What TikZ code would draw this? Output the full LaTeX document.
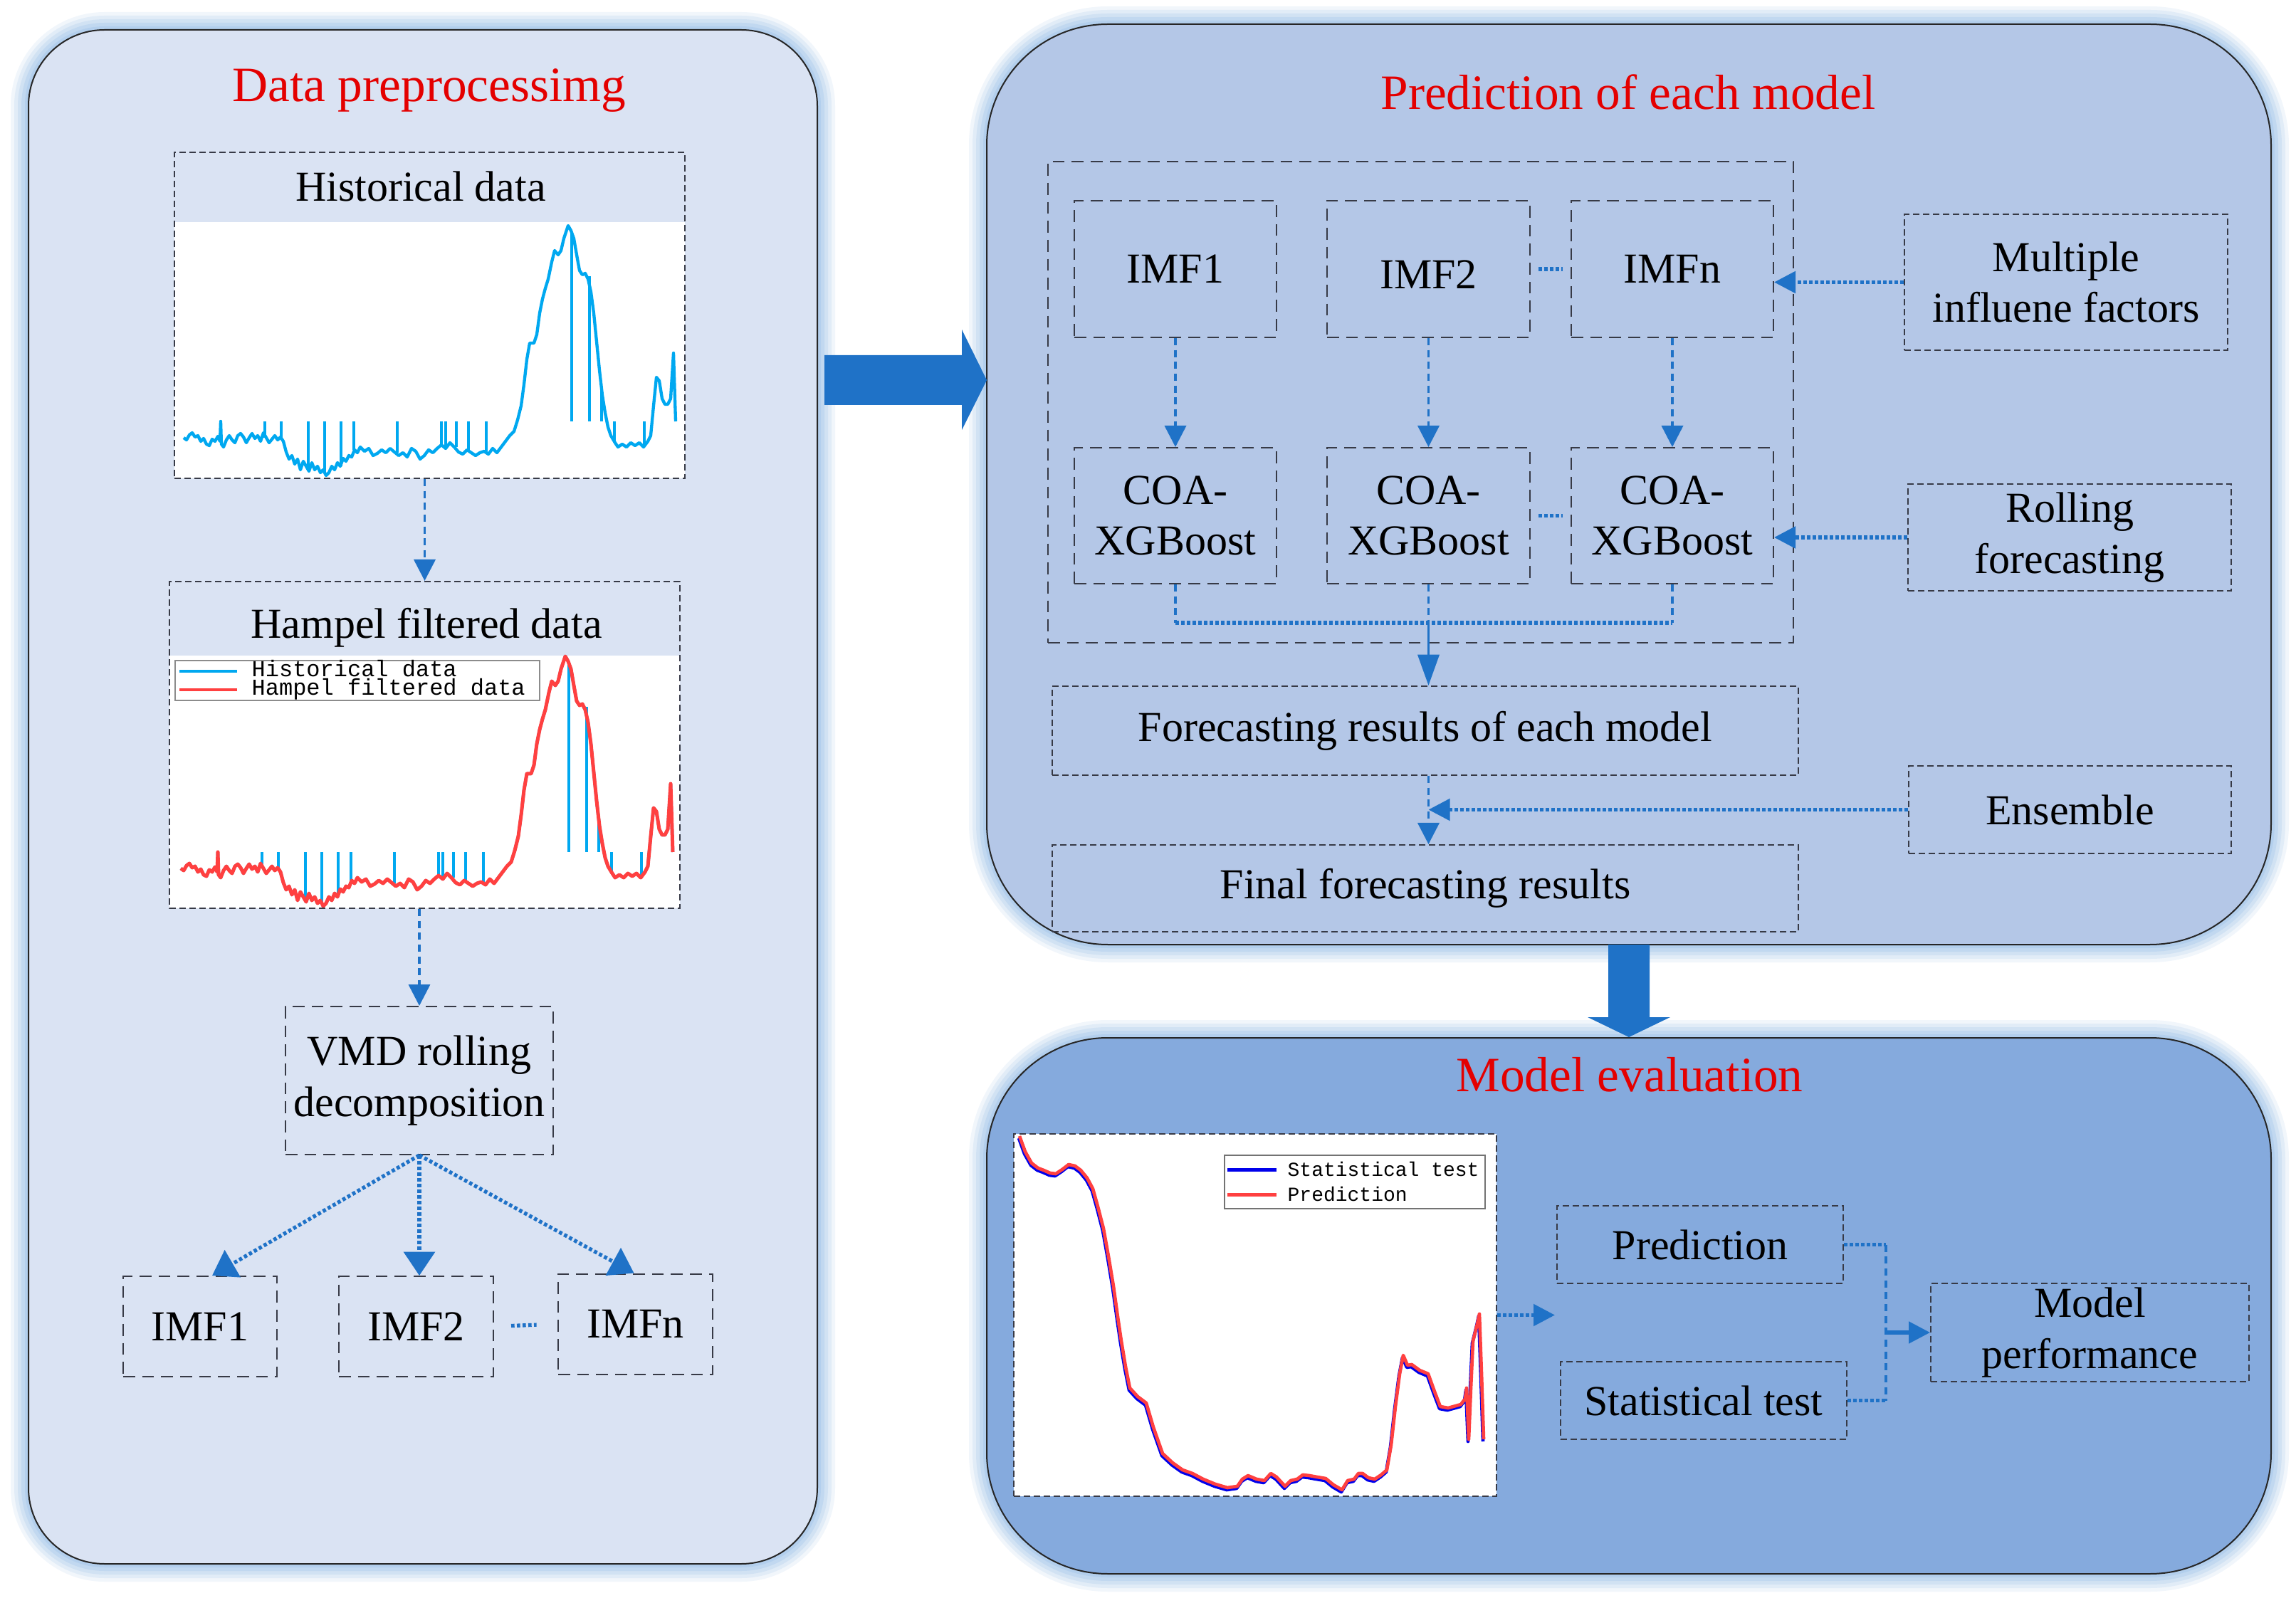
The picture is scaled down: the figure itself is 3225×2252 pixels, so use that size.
\documentclass[tikz,border=0pt]{standalone}
\usepackage{fontspec}
\setmainfont{Liberation Serif}
\newfontfamily\monof{Liberation Mono}
\usetikzlibrary{arrows.meta,calc}
\definecolor{pleft}{HTML}{DAE3F3}
\definecolor{ptop}{HTML}{B4C7E7}
\definecolor{pbot}{RGB}{133,170,221}
\definecolor{glowc}{RGB}{140,182,230}
\definecolor{arrc}{RGB}{31,114,199}
\definecolor{titred}{RGB}{228,0,0}
\definecolor{bordc}{RGB}{55,58,70}
\definecolor{histc}{RGB}{0,168,240}
\definecolor{hampc}{RGB}{255,64,64}
\definecolor{evblue}{RGB}{0,0,235}

\newcommand\glowrect[5]{%
  \foreach \w/\o in {15/0.12,12/0.15,9/0.18,6/0.22,3/0.25}{%
    \draw[glowc, line width=\w pt, opacity=\o, rounded corners=#5] (#1,#2) rectangle (#3,#4);}}

\newcommand\histcurve[1]{%
\draw[#1, line join=round] plot coordinates {
(258,615)(262,618)(266,611)(270,608)(274,614)(278,612)(282,620)(286,616)(290,624)(294,626)(298,617)(302,620)(306,613)(309,620)(310,592)(311,624)(314,628)(318,618)(322,612)(326,618)(330,622)(334,612)(338,609)(342,614)(346,622)(350,615)(354,609)(358,616)(362,612)(366,620)(370,608)(374,615)(378,622)(382,617)(386,612)(390,618)(394,614)(398,620)
(402,635)(406,645)(410,640)(414,652)(418,645)(422,660)(426,648)(430,655)(434,662)(438,650)(442,660)(446,655)(450,664)(454,660)(458,668)(462,664)(466,655)(470,660)(474,650)(478,655)(482,644)(486,648)(490,640)(494,642)(498,632)
(502,636)(506,628)(512,634)(518,630)(524,640)(530,637)(536,632)(542,636)(548,630)(554,635)(560,640)(566,636)(572,642)(578,630)(584,634)(590,645)(596,640)(602,632)(608,636)(614,630)(620,625)(626,630)(632,622)(638,628)(644,635)(650,638)(656,632)(662,636)(668,640)(674,636)(680,634)(686,638)(692,630)(698,636)(704,628)(710,620)
(716,612)(722,606)(727,590)(732,570)(736,540)(740,505)(744,482)(750,482)(754,470)(758,440)(762,420)(766,405)(770,392)(775,368)(779,352)(784,358)(788,352)(792,335)(798,317)(802,324)(806,335)(810,358)(814,380)(818,386)(822,384)(826,392)(830,410)(834,440)(838,480)(842,520)(846,555)(850,580)(854,600)(858,612)(864,622)(868,628)(874,624)(880,628)(886,622)(892,626)(898,622)(904,628)(910,620)(914,612)(918,570)(922,530)(926,535)(930,560)(934,568)(938,568)(942,560)(946,496)(949,592)};}

\newcommand\histspikes[1]{%
  \foreach \x/\y in {372/615,395/614,433/660,456/664,479/655,497/632,558/636,620/625,626/630,641/628,658/634,683/636,863/622,905/628}{%
    \draw[#1] (\x,\y) -- (\x,592);}
  \foreach \x/\y in {803/326,828/388,845/550}{%
    \draw[#1] (\x,\y) -- (\x,592);}}

\newcommand\evcurve[1]{%
\draw[#1, line join=round] plot coordinates {
(1432,1596)(1440,1618)(1449,1634)(1458,1641)(1466,1644)(1475,1648)(1483,1649)(1492,1643)(1501,1636)(1510,1638)(1518,1644)(1527,1655)(1535,1670)(1542,1695)(1550,1726)(1557,1765)(1564,1807)(1570,1850)(1575,1884)(1581,1920)(1587,1950)(1598,1962)(1610,1971)(1620,2005)(1633,2042)(1647,2055)(1661,2065)(1675,2070)(1690,2078)(1707,2085)(1724,2090)(1738,2088)(1745,2078)(1753,2073)(1765,2078)(1776,2080)(1785,2070)(1793,2075)(1805,2088)(1813,2080)(1822,2078)(1830,2072)(1839,2073)(1850,2075)(1862,2077)(1873,2086)(1885,2093)(1893,2080)(1902,2078)(1908,2070)(1914,2070)(1922,2076)(1931,2078)(1940,2072)(1948,2065)(1954,2030)(1960,1976)(1966,1930)(1971,1904)(1977,1918)(1983,1917)(1994,1925)(2006,1930)(2015,1955)(2023,1976)(2034,1978)(2045,1975)(2052,1973)(2058,1965)(2060,1950)(2063,2022)(2066,1950)(2069,1884)(2075,1860)(2078,1846)(2081,1930)(2084,2022)};}

\begin{document}
\begin{tikzpicture}[x=0.3pt,y=-0.3pt,
  sz/.style 2 args={minimum width=#1*0.3pt, minimum height=#2*0.3pt},
  boxc/.style={draw=bordc, line width=0.6pt, dash pattern=on 5pt off 3pt, inner sep=0pt, align=center, font=\fontsize{18pt}{21.5pt}\selectfont},
  boxf/.style={boxc, dash pattern=on 2.6pt off 1.6pt},
  ttl/.style={text=titred, inner sep=0pt, anchor=base, font=\fontsize{20.8pt}{24pt}\selectfont},
  hdr/.style={inner sep=0pt, anchor=base, font=\fontsize{18pt}{21.5pt}\selectfont},
  legtxt/.style={inner sep=0pt, anchor=base west},
  conn/.style={draw=arrc, line width=1.1pt, dash pattern=on 3pt off 2pt},
  dconn/.style={draw=arrc, line width=1.6pt, dash pattern=on 1.4pt off 1pt},
  sconn/.style={draw=arrc, line width=1.1pt},
  arrtip/.style={-{Triangle[length=9pt,width=9pt]}},
  bigarrtip/.style={-{Triangle[length=10pt,width=13pt]}},
  longtip/.style={-{Triangle[length=13pt,width=9pt]}},
  panel/.style={draw=black!85, line width=0.6pt}
]
\fill[white] (0,0) rectangle (3225,2252);
\useasboundingbox (0,0) rectangle (3225,2252);

% ---------- glows and panels ----------
\glowrect{40}{42}{1148}{2197}{32pt}
\glowrect{1386}{34}{3190}{1327}{51pt}
\glowrect{1386}{1458}{3190}{2211}{51pt}
\draw[panel, fill=pleft, rounded corners=32pt] (40,42) rectangle (1148,2197);
\draw[panel, fill=ptop, rounded corners=51pt] (1386,34) rectangle (3190,1327);
\draw[panel, fill=pbot, rounded corners=51pt] (1386,1458) rectangle (3190,2211);

% big block arrows
\fill[arrc] (1158,499) -- (1351,499) -- (1351,463) -- (1386,534) -- (1351,604) -- (1351,569) -- (1158,569) -- cycle;
\fill[arrc] (2259,1327) -- (2317,1327) -- (2317,1429) -- (2346,1429) -- (2288,1457) -- (2230,1429) -- (2259,1429) -- cycle;

% ---------- left panel ----------
\node[ttl] (t1) at (603,143) {Data preprocessimg};

% historical data
\fill[white] (245,312) rectangle (962,672);
\histcurve{histc, line width=1.3pt}
\histspikes{histc, line width=1.3pt}
\node[boxf, sz={717}{458}] (hist) at (603.5,443) {};
\node[hdr] (histt) at (591,283) {Historical data};

% hampel filtered data
\fill[white] (238,921) rectangle (955,1276);
\begin{scope}[shift={(-4,605)}]
  \histcurve{histc, line width=1.3pt}
  \histspikes{histc, line width=1.3pt}
  \histcurve{hampc, line width=1.5pt}
\end{scope}
\node[boxf, sz={717}{459}] (hamp) at (596.5,1046.5) {};
\node[hdr] (hampt) at (599,897) {Hampel filtered data};
\node[draw=black!45, fill=white, line width=0.5pt, sz={512}{56}, inner sep=0pt] (hleg) at (502,956) {};
\draw[histc, line width=1.3pt] (252,943) -- (333,943);
\draw[hampc, line width=1.3pt] (252,969) -- (333,969);
\node[legtxt, font=\monof\fontsize{9.6pt}{10pt}\selectfont] (hl1) at (353,951) {Historical data};
\node[legtxt, font=\monof\fontsize{9.6pt}{10pt}\selectfont] (hl2) at (353,977) {Hampel filtered data};

% VMD
\node[boxc, sz={376}{208}] (vmd) at (589,1518) {VMD rolling\\decomposition};
\node[boxc, sz={216}{141}] (limf1) at (281,1863.5) {IMF1};
\node[boxc, sz={217}{141}] (limf2) at (584.5,1863.5) {IMF2};
\node[boxc, sz={217}{141}] (limfn) at (892.5,1860) {IMFn};

\draw[conn, arrtip] (hamp.north |- hist.south) -- (hamp.north);
\draw[conn, arrtip] (vmd.north |- hamp.south) -- (vmd.north);
\draw[dconn, bigarrtip] (vmd.south) -- ($(limf1.north)+(17,0)$);
\draw[dconn, bigarrtip] (vmd.south) -- (vmd.south |- limf2.north);
\draw[dconn, bigarrtip] (vmd.south) -- ($(limfn.north)+(-2,0)$);
\draw[dconn] ($(limf2.east)!0.27!(limfn.west)$) -- ($(limf2.east)!0.67!(limfn.west)$);

% ---------- top right panel ----------
\node[ttl] (t2) at (2287,154) {Prediction of each model};
\node[boxc, sz={1047}{676}] (grp) at (1995.5,565) {};
\node[boxc, sz={284}{192}] (imf1) at (1651,378) {IMF1};
\node[boxc, sz={285}{192}, text height=16.8pt, text depth=0pt] (imf2) at (2006.5,378) {IMF2};
\node[boxc, sz={284}{192}] (imfn) at (2349,378) {IMFn};
\node[boxc, sz={284}{191}] (coa1) at (1651,724.5) {COA-\\XGBoost};
\node[boxc, sz={285}{191}] (coa2) at (2006.5,724.5) {COA-\\XGBoost};
\node[boxc, sz={284}{191}] (coan) at (2349,724.5) {COA-\\XGBoost};
\node[boxf, sz={454}{191}] (mult) at (2902,396.5) {Multiple\\influene factors};
\node[boxf, sz={454}{150}] (roll) at (2907,755) {Rolling\\forecasting};
\node[boxf, sz={1048}{125}] (fore) at (2002,1026.5) {Forecasting results of each model};
\node[boxf, sz={1048}{122}] (final) at (2002,1248) {Final forecasting results};
\node[boxf, sz={453}{123}] (ens) at (2907.5,1137.5) {Ensemble};

\draw[conn, arrtip] (imf1.south) -- (coa1.north);
\draw[conn, arrtip] (imf2.south) -- (coa2.north);
\draw[conn, arrtip] (imfn.south) -- (coan.north);
\draw[dconn] ($(imf2.east)!0.2!(imfn.west)$) -- ($(imf2.east)!0.8!(imfn.west)$);
\draw[dconn] ($(coa2.east)!0.2!(coan.west)$) -- ($(coa2.east)!0.8!(coan.west)$);
\draw[dconn, arrtip] (mult.west) -- (mult.west -| imfn.east);
\draw[dconn, arrtip] (roll.west) -- (roll.west -| coan.east);
\coordinate (jn) at ($(coa2.south)+(0,54)$);
\draw[conn] (coa1.south) -- (coa1.south |- jn);
\draw[conn] (coan.south) -- (coan.south |- jn);
\draw[conn] (coa2.south) -- (jn);
\draw[dconn] (coa1.south |- jn) -- (coan.south |- jn);
\draw[sconn, longtip] (jn) -- (jn |- fore.north);
\draw[conn, arrtip] (jn |- fore.south) -- (jn |- final.north);
\draw[dconn, arrtip] (ens.west) -- (ens.west -| jn);

% ---------- bottom right panel ----------
\node[ttl] (t3) at (2289,1533) {Model evaluation};
\node[boxf, fill=white, sz={678}{509}] (evplot) at (1763,1847.5) {};
\begin{scope}[shift={(-1,3)}]
  \evcurve{evblue, line width=1.4pt}
\end{scope}
\evcurve{hampc, line width=1.4pt}
\node[draw=black!55, fill=white, line width=0.5pt, sz={366}{75}, inner sep=0pt] (eleg) at (1903,1660.5) {};
\draw[evblue, line width=1.5pt] (1724,1643) -- (1793,1643);
\draw[hampc, line width=1.5pt] (1724,1678) -- (1793,1678);
\node[legtxt, font=\monof\fontsize{8.4pt}{9pt}\selectfont] (el1) at (1808,1652) {Statistical test};
\node[legtxt, font=\monof\fontsize{8.4pt}{9pt}\selectfont] (el2) at (1808,1687) {Prediction};

\node[boxf, sz={402}{109}] (pred) at (2388,1748.5) {Prediction};
\node[boxf, sz={402}{109}] (stat) at (2393,1967.5) {Statistical test};
\node[boxf, sz={447}{138}] (perf) at (2935.5,1872) {Model\\performance};

\coordinate (evend) at (2184,1847.5);
\draw[dconn, arrtip] (evplot.east) -- (evend);
\coordinate (jx) at (2649,1872);
\draw[dconn] (pred.east) -- (pred.east -| jx);
\draw[dconn] (stat.east) -- (stat.east -| jx);
\draw[conn] (pred.east -| jx) -- (stat.east -| jx);
\draw[draw=arrc, line width=1.6pt, arrtip] (jx) -- (perf.west);
\end{tikzpicture}
\end{document}
